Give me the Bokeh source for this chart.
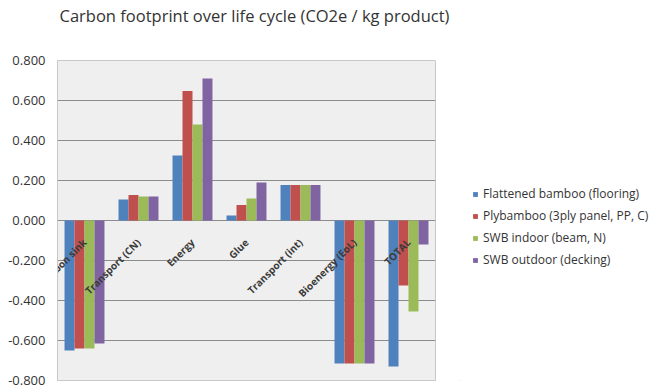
from bokeh.plotting import figure
from bokeh.layouts import row, column
from bokeh.models import ColumnDataSource, FactorRange, FixedTicker, NumeralTickFormatter, Legend, LegendItem
from bokeh.transform import dodge
from bokeh.core.properties import value
from bokeh.embed import file_html
from bokeh.resources import INLINE

title_text = "Carbon footprint over life cycle (CO2e / kg product)"
categories = ["Carbon sink", "Transport (CN)", "Energy", "Glue", "Transport (int)", "Bioenergy (EoL)", "TOTAL"]
series_names = ["Flattened bamboo (flooring)", "Plybamboo (3ply panel, PP, C)", "SWB indoor (beam, N)", "SWB outdoor (decking)"]
flattened = [-0.650, 0.105, 0.325, 0.025, 0.178, -0.715, -0.730]
plybamboo = [-0.640, 0.128, 0.647, 0.078, 0.178, -0.715, -0.325]
swb_indoor = [-0.640, 0.120, 0.480, 0.110, 0.178, -0.715, -0.455]
swb_outdoor = [-0.615, 0.120, 0.710, 0.190, 0.178, -0.715, -0.120]
y_ticks = [-0.8, -0.6, -0.4, -0.2, 0.0, 0.2, 0.4, 0.6, 0.8]

colors = ["#4F81BD", "#C0504D", "#9BBB59", "#8064A2"]

src = ColumnDataSource(dict(cat=categories, s0=flattened, s1=plybamboo, s2=swb_indoor, s3=swb_outdoor,
                            zero=[0.0] * len(categories)))

# title strip
pt = figure(width=667, height=35, x_range=(0, 667), y_range=(0, 35),
            output_backend="svg", toolbar_location=None)
pt.min_border = 0
pt.axis.visible = False
pt.grid.grid_line_color = None
pt.outline_line_color = None
pt.background_fill_color = "white"
pt.border_fill_color = "white"
pt.text(x=[254], y=[20], text=[title_text], text_align="center", text_baseline="middle",
        text_font=value("Open Sans"), text_font_size="16.5px", text_color="#333333")

p = figure(width=460, height=353, x_range=FactorRange(*categories), y_range=(-0.8, 0.8),
           output_backend="svg", toolbar_location=None)
p.min_border_left = 57
p.min_border_top = 25
p.min_border_bottom = 8
p.min_border_right = 25
p.x_range.range_padding = 0
p.background_fill_color = "#EFEFEF"
p.border_fill_color = "white"
p.outline_line_color = "#C8C8C8"

w = 0.185
offs = [-1.5 * w, -0.5 * w, 0.5 * w, 1.5 * w]
renderers = []
for i in range(4):
    r = p.vbar(x=dodge("cat", offs[i], range=p.x_range), top="s%d" % i, bottom=0, width=w,
               source=src, fill_color=colors[i], line_color=None)
    renderers.append(r)

p.xaxis.visible = False
p.xgrid.grid_line_color = None
p.ygrid.grid_line_color = "#8C8C8C"
p.ygrid.grid_line_width = 1
p.yaxis.ticker = FixedTicker(ticks=y_ticks)
p.yaxis.formatter = NumeralTickFormatter(format="0.000")
p.yaxis.major_label_text_font = "Open Sans"
p.yaxis.major_label_text_font_size = "13px"
p.yaxis.major_label_text_color = "#333333"
p.yaxis.major_tick_line_color = None
p.yaxis.minor_tick_line_color = None
p.yaxis.axis_line_color = "#C8C8C8"
p.yaxis.major_label_standoff = 6

p.text(x="cat", y="zero", text="cat", source=src, angle=0.785398,
       text_align="right", text_baseline="middle", y_offset=20,
       text_font=value("Open Sans"), text_font_size="10px", text_font_style="bold", text_color="#3A3A3A")

# legend panel
p2 = figure(width=207, height=353, x_range=(0, 1), y_range=(0, 1),
            output_backend="svg", toolbar_location=None)
p2.min_border = 0
p2.axis.visible = False
p2.grid.grid_line_color = None
p2.outline_line_color = None
p2.background_fill_color = "white"
p2.border_fill_color = "white"
lrs = []
for i in range(4):
    lrs.append(p2.vbar(x=[-5], top=[-5], bottom=[-5], width=0.1, fill_color=colors[i], line_color=None))

legend = Legend(items=[LegendItem(label=series_names[i], renderers=[lrs[i]]) for i in range(4)],
                location=(12, 112), orientation="vertical")
legend.glyph_width = 6
legend.glyph_height = 6
legend.label_text_font = "Open Sans"
legend.label_text_font_size = "12px"
legend.label_text_color = "#333333"
legend.label_standoff = 5
legend.spacing = 5
legend.padding = 0
legend.margin = 0
legend.border_line_color = None
legend.background_fill_alpha = 0
p2.add_layout(legend, "center")

layout = column(pt, row(p, p2, spacing=0), spacing=0)
open("out.html", "w").write(file_html(layout, INLINE))
